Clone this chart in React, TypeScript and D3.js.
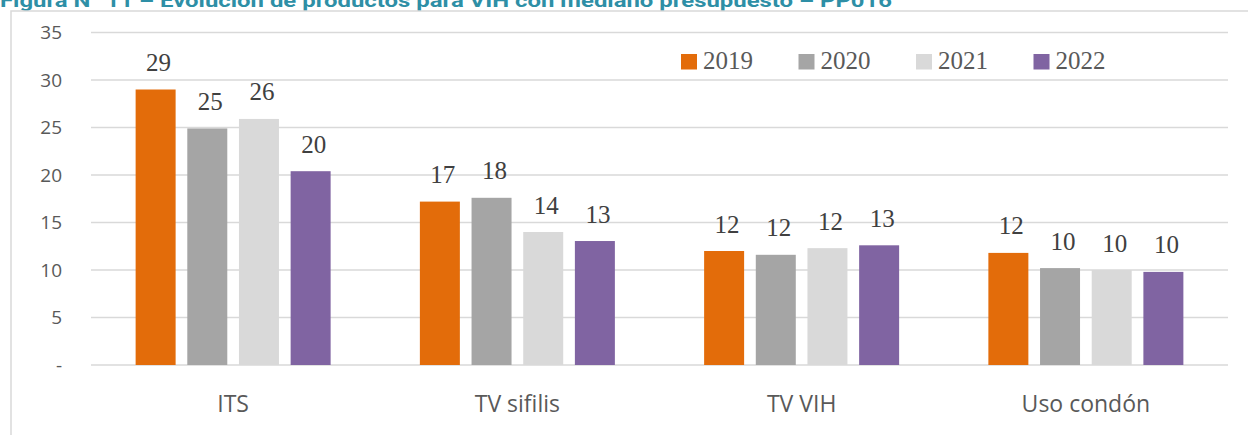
import React from "react";
import * as d3 from "d3";

const categories = ["ITS", "TV sifilis", "TV VIH", "Uso condón"];
const seriesNames = ["2019", "2020", "2021", "2022"];
const values2019 = [29.0, 17.2, 12.0, 11.8];
const values2020 = [24.9, 17.6, 11.6, 10.2];
const values2021 = [25.9, 14.0, 12.3, 10.0];
const values2022 = [20.4, 13.05, 12.6, 9.8];
const yTicks = [0, 5, 10, 15, 20, 25, 30, 35];
const colors = ["#E36C0A", "#A5A5A5", "#D9D9D9", "#8064A2"];
const title = "Figura N° 11 – Evolución de productos para VIH con mediano presupuesto – PP016";

const seriesValues = [values2019, values2020, values2021, values2022];

export default function App() {
  const W = 1248, H = 435;
  const left = 91, right = 1228, top = 32.5, bottom = 365;
  const y = d3.scaleLinear().domain([0, 35]).range([bottom, top]);
  const x0 = d3.scaleBand<string>().domain(categories).range([left, right]).padding(0);
  const groupW = 195;
  const x1 = d3.scaleBand<string>().domain(seriesNames).range([0, groupW]).paddingInner(0.226).paddingOuter(0);
  const off = (x0.bandwidth() - groupW) / 2;
  const legendX = d3.scaleOrdinal<string, number>().domain(seriesNames).range([681, 798.5, 916, 1033.5]);

  return (
    <svg width={W} height={H} style={{ position: "absolute", left: 0, top: 0, background: "#fff" }}>
      <text x={0} y={6.5} fontFamily="Roboto, 'Noto Sans', sans-serif" fontWeight="bold" fontSize={18} fill="#2E8FA6"
        textLength={892} lengthAdjust="spacingAndGlyphs">{title}</text>
      <rect x={11} y={11} width={1260} height={440} fill="none" stroke="#D9D9D9" strokeWidth={1.5} />
      {yTicks.map((t) => (
        <g key={t}>
          <line x1={left} x2={right} y1={y(t)} y2={y(t)} stroke="#D9D9D9" strokeWidth={1.5} />
          <text x={62} y={y(t)} dy="0.35em" textAnchor="end" fontFamily="'Open Sans', sans-serif" fontSize={19} fill="#595959">
            {t === 0 ? "-" : t}
          </text>
        </g>
      ))}
      {categories.map((c, ci) => (
        <g key={c}>
          {seriesNames.map((s, si) => {
            const v = seriesValues[si][ci];
            const bx = (x0(c) as number) + off + (x1(s) as number);
            return (
              <g key={s}>
                <rect x={bx} y={y(v)} width={x1.bandwidth()} height={y(0) - y(v)} fill={colors[si]} />
                <text x={bx + x1.bandwidth() / 2 + 3} y={y(v) - 18.5} textAnchor="middle"
                  fontFamily="'Liberation Serif', 'DejaVu Serif', serif" fontSize={25} fill="#404040">
                  {Math.round(v)}
                </text>
              </g>
            );
          })}
          <text x={(x0(c) as number) + x0.bandwidth() / 2} y={412} textAnchor="middle"
            fontFamily="'Open Sans', sans-serif" fontSize={23} fill="#595959">{c}</text>
        </g>
      ))}
      {seriesNames.map((s, si) => (
        <g key={s}>
          <rect x={legendX(s)} y={54} width={16} height={15.5} fill={colors[si]} />
          <text x={legendX(s) + 22} y={69} fontFamily="'Liberation Serif', 'DejaVu Serif', serif" fontSize={25} fill="#595959">{s}</text>
        </g>
      ))}
    </svg>
  );
}
